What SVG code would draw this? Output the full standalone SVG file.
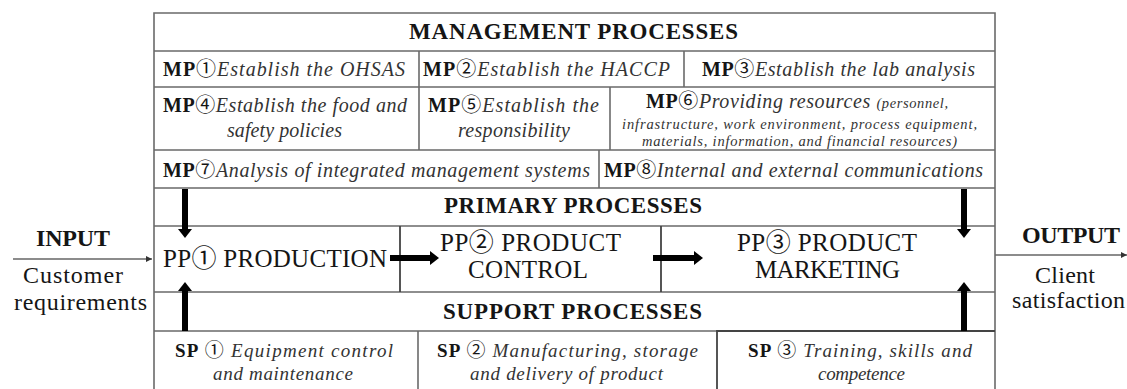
<svg xmlns="http://www.w3.org/2000/svg" width="1127" height="389" viewBox="0 0 1127 389">
<style>
.ln{stroke:#6a6a6a;stroke-width:1.6;fill:none}
.dk{stroke:#444;stroke-width:1.8;fill:none}
.ar{stroke:#000;stroke-width:6;fill:none}
.thin{stroke:#666;stroke-width:1.5;fill:none}
</style>
<defs>
<marker id="head" viewBox="0 0 9 14" refX="0" refY="7" markerWidth="9" markerHeight="14" markerUnits="userSpaceOnUse" orient="auto"><path d="M0,0 L9,7 L0,14 z" fill="#000"/></marker>
<marker id="small" viewBox="0 0 6 6" refX="6" refY="3" markerWidth="6" markerHeight="6" markerUnits="userSpaceOnUse" orient="auto"><path d="M0,0 L6,3 L0,6 z" fill="#333"/></marker>
</defs>
<rect x="0" y="0" width="1127" height="389" fill="#fff"/>

<g id="frame">
<path class="ln" d="M154,389 V13 H995 V389"/>
<path class="ln" d="M154,51 H995 M154,87 H995 M154,150 H995 M154,188 H995 M154,226 H995 M154,292 H995 M154,331 H995"/>
</g>

<g id="management-title"><text font-family="Liberation Serif" font-size="23" font-weight="bold" fill="#151515" x="409" y="39" textLength="329">MANAGEMENT PROCESSES</text></g>

<g id="mp1"><text font-family="Liberation Serif" font-size="20" fill="#151515" x="163" y="76" textLength="242"><tspan font-weight="bold">MP</tspan><tspan font-family="Noto Sans CJK JP">①</tspan><tspan font-style="italic" fill="#333">Establish the OHSAS</tspan></text></g>
<g id="mp2"><path class="ln" d="M419,51 V87"/><text font-family="Liberation Serif" font-size="20" fill="#151515" x="423" y="76" textLength="247"><tspan font-weight="bold">MP</tspan><tspan font-family="Noto Sans CJK JP">②</tspan><tspan font-style="italic" fill="#333">Establish the HACCP</tspan></text></g>
<g id="mp3"><path class="ln" d="M684,51 V87"/><text font-family="Liberation Serif" font-size="20" fill="#151515" x="702" y="76" textLength="273"><tspan font-weight="bold">MP</tspan><tspan font-family="Noto Sans CJK JP">③</tspan><tspan font-style="italic" fill="#333">Establish the lab analysis</tspan></text></g>

<g id="mp4"><text font-family="Liberation Serif" font-size="20" fill="#151515" x="163" y="112" textLength="244"><tspan font-weight="bold">MP</tspan><tspan font-family="Noto Sans CJK JP">④</tspan><tspan font-style="italic" fill="#333">Establish the food and</tspan></text>
<text font-family="Liberation Serif" font-size="20" font-style="italic" fill="#333" x="227" y="137" textLength="115">safety policies</text></g>
<g id="mp5"><path class="ln" d="M419,87 V150"/><text font-family="Liberation Serif" font-size="20" fill="#151515" x="428" y="112" textLength="171"><tspan font-weight="bold">MP</tspan><tspan font-family="Noto Sans CJK JP">⑤</tspan><tspan font-style="italic" fill="#333">Establish the</tspan></text>
<text font-family="Liberation Serif" font-size="20" font-style="italic" fill="#333" x="458" y="137" textLength="112">responsibility</text></g>
<g id="mp6"><path class="ln" d="M610,87 V150"/><text font-family="Liberation Serif" font-size="20" fill="#151515" x="646" y="108" textLength="302"><tspan font-weight="bold">MP</tspan><tspan font-family="Noto Sans CJK JP">⑥</tspan><tspan font-style="italic" fill="#333">Providing resources </tspan><tspan font-size="14.5" font-style="italic" fill="#333">(personnel,</tspan></text>
<text font-family="Liberation Serif" font-size="14.5" font-style="italic" fill="#333" x="622" y="129" textLength="355">infrastructure, work environment, process equipment,</text>
<text font-family="Liberation Serif" font-size="14.5" font-style="italic" fill="#333" x="642" y="146" textLength="315">materials, information, and financial resources)</text></g>

<g id="mp7"><text font-family="Liberation Serif" font-size="20" fill="#151515" x="163" y="177" textLength="427"><tspan font-weight="bold">MP</tspan><tspan font-family="Noto Sans CJK JP">⑦</tspan><tspan font-style="italic" fill="#333">Analysis of integrated management systems</tspan></text></g>
<g id="mp8"><path class="ln" d="M599,150 V188"/><text font-family="Liberation Serif" font-size="20" fill="#151515" x="604" y="177" textLength="379"><tspan font-weight="bold">MP</tspan><tspan font-family="Noto Sans CJK JP">⑧</tspan><tspan font-style="italic" fill="#333">Internal and external communications</tspan></text></g>

<g id="primary-title"><text font-family="Liberation Serif" font-size="23" font-weight="bold" fill="#151515" x="444" y="213" textLength="258">PRIMARY PROCESSES</text></g>

<g id="pp1"><text font-family="Liberation Serif" font-size="25" fill="#151515" x="163" y="267" textLength="224"><tspan>PP</tspan><tspan font-family="Noto Sans CJK JP">①</tspan><tspan> PRODUCTION</tspan></text></g>
<g id="pp2"><path class="dk" d="M400,226 V292 M661,226 V292"/><text font-family="Liberation Serif" font-size="25" fill="#151515" x="440" y="251" textLength="181"><tspan>PP</tspan><tspan font-family="Noto Sans CJK JP">②</tspan><tspan> PRODUCT</tspan></text>
<text font-family="Liberation Serif" font-size="25" fill="#151515" x="468" y="278" textLength="120">CONTROL</text></g>
<g id="pp3"><text font-family="Liberation Serif" font-size="25" fill="#151515" x="737" y="251" textLength="180"><tspan>PP</tspan><tspan font-family="Noto Sans CJK JP">③</tspan><tspan> PRODUCT</tspan></text>
<text font-family="Liberation Serif" font-size="25" fill="#151515" x="755" y="278" textLength="145">MARKETING</text></g>

<g id="support-title"><text font-family="Liberation Serif" font-size="23" font-weight="bold" fill="#151515" x="443" y="319" textLength="259">SUPPORT PROCESSES</text></g>

<g id="sp1"><text font-family="Liberation Serif" font-size="19" fill="#151515" x="175" y="357" textLength="218"><tspan font-weight="bold">SP </tspan><tspan font-family="Noto Sans CJK JP">①</tspan><tspan font-style="italic" fill="#333"> Equipment control</tspan></text>
<text font-family="Liberation Serif" font-size="19" font-style="italic" fill="#333" x="213" y="380" textLength="140">and maintenance</text></g>
<g id="sp2"><path class="ln" d="M418,331 V389"/><text font-family="Liberation Serif" font-size="19" fill="#151515" x="437" y="357" textLength="261"><tspan font-weight="bold">SP </tspan><tspan font-family="Noto Sans CJK JP">②</tspan><tspan font-style="italic" fill="#333"> Manufacturing, storage</tspan></text>
<text font-family="Liberation Serif" font-size="19" font-style="italic" fill="#333" x="470" y="380" textLength="193">and delivery of product</text></g>
<g id="sp3"><path class="dk" d="M717,389 V331 H995"/><text font-family="Liberation Serif" font-size="19" fill="#151515" x="748" y="357" textLength="224"><tspan font-weight="bold">SP </tspan><tspan font-family="Noto Sans CJK JP">③</tspan><tspan font-style="italic" fill="#333"> Training, skills and</tspan></text>
<text font-family="Liberation Serif" font-size="19" font-style="italic" fill="#333" x="818" y="380" textLength="87">competence</text></g>

<g id="input"><text font-family="Liberation Serif" font-size="24" font-weight="bold" fill="#151515" x="36" y="246" textLength="74">INPUT</text>
<text font-family="Liberation Serif" font-size="24" fill="#151515" x="23" y="283" textLength="100">Customer</text>
<text font-family="Liberation Serif" font-size="24" fill="#151515" x="14" y="310" textLength="133">requirements</text></g>
<g id="output"><text font-family="Liberation Serif" font-size="24" font-weight="bold" fill="#151515" x="1022" y="243" textLength="98">OUTPUT</text>
<text font-family="Liberation Serif" font-size="24" fill="#151515" x="1035" y="283" textLength="60">Client</text>
<text font-family="Liberation Serif" font-size="24" fill="#151515" x="1012" y="308" textLength="113">satisfaction</text></g>

<g id="connectors">
<path class="thin" d="M13,259 H152" marker-end="url(#small)"/>
<path class="thin" d="M995,255 H1127" marker-end="url(#small)"/>
<path class="ar" d="M185,189 V229" marker-end="url(#head)"/>
<path class="ar" d="M964,189 V229" marker-end="url(#head)"/>
<path class="ar" d="M185,331 V291" marker-end="url(#head)"/>
<path class="ar" d="M964,331 V291" marker-end="url(#head)"/>
<path class="ar" d="M390,258 H430" marker-end="url(#head)"/>
<path class="ar" d="M653,258 H694" marker-end="url(#head)"/>
</g>
</svg>
